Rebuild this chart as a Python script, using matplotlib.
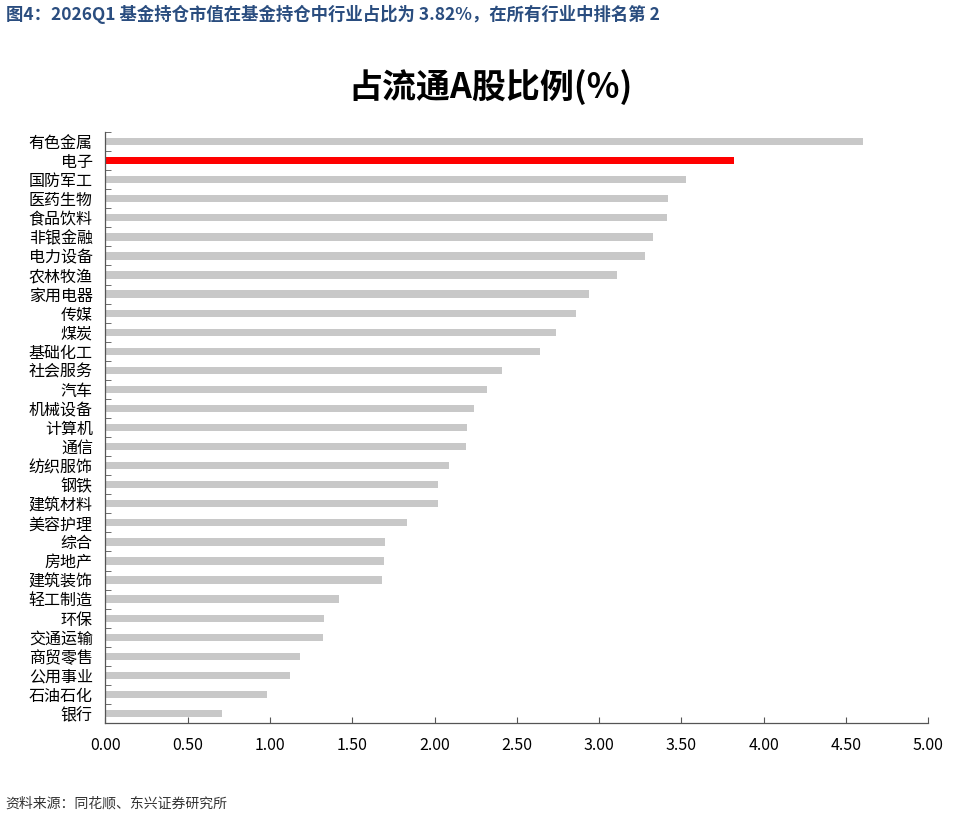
import matplotlib
matplotlib.use('Agg')
import matplotlib.pyplot as plt
import numpy as np

plt.rcParams['font.family'] = ['Noto Sans CJK SC', 'DejaVu Sans']

# industries, top to bottom
industries = ['有色金属', '电子', '国防军工', '医药生物', '食品饮料', '非银金融', '电力设备',
              '农林牧渔', '家用电器', '传媒', '煤炭', '基础化工', '社会服务', '汽车',
              '机械设备', '计算机', '通信', '纺织服饰', '钢铁', '建筑材料', '美容护理',
              '综合', '房地产', '建筑装饰', '轻工制造', '环保', '交通运输', '商贸零售',
              '公用事业', '石油石化', '银行']
ratio = [4.60, 3.82, 3.53, 3.42, 3.41, 3.33, 3.28,
         3.11, 2.94, 2.86, 2.74, 2.64, 2.41, 2.32,
         2.24, 2.20, 2.19, 2.09, 2.02, 2.02, 1.83,
         1.70, 1.69, 1.68, 1.42, 1.33, 1.32, 1.18,
         1.12, 0.98, 0.71]
highlight = '电子'
xticks = [0, 0.5, 1.0, 1.5, 2.0, 2.5, 3.0, 3.5, 4.0, 4.5, 5.0]

fig = plt.figure(figsize=(9.71, 8.17), dpi=100)
ax = fig.add_axes([0.1085, 0.115, 0.8476, 0.7234])

y = np.arange(len(industries))
colors = ['#FF0000' if n == highlight else '#C8C8C8' for n in industries]
ax.barh(y, ratio, height=0.38, color=colors)

ax.set_ylim(len(industries) - 0.5, -0.5)
ax.set_xlim(0, 5)
ax.set_yticks(y)
ax.set_yticklabels(industries, fontsize=11.5)
ax.set_yticks(np.arange(len(industries) + 1) - 0.5, minor=True)
ax.tick_params(axis='y', which='major', length=0, pad=9)
ax.tick_params(axis='y', which='minor', direction='in', length=4, color='#555555')
ax.set_xticks(xticks)
ax.set_xticklabels(['%.2f' % v for v in xticks], fontsize=11.5)
ax.tick_params(axis='x', direction='in', length=4, color='#555555', pad=10)

for s in ['top', 'right']:
    ax.spines[s].set_visible(False)
for s in ['left', 'bottom']:
    ax.spines[s].set_color('#555555')
    ax.spines[s].set_linewidth(0.9)

fig.text(0.505, 0.894, '占流通A股比例(%)', fontsize=24.5, fontweight='bold',
         ha='center', va='center')
fig.text(0.006, 0.982, '图4：2026Q1 基金持仓市值在基金持仓中行业占比为 3.82%，在所有行业中排名第 2',
         fontsize=12.5, fontweight='bold', color='#2A4D7F', ha='left', va='center')
fig.text(0.006, 0.017, '资料来源：同花顺、东兴证券研究所', fontsize=10, color='#333333',
         ha='left', va='center', style='italic')

fig.savefig('out.png', dpi=100)
